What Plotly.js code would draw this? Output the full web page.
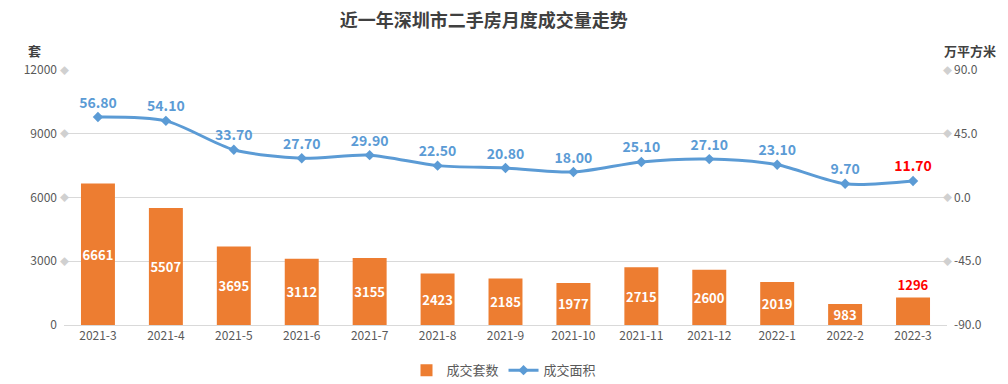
<!DOCTYPE html>
<html><head><meta charset="utf-8">
<script src="https://cdn.plot.ly/plotly-3.0.1.min.js"></script>
<style>html,body{margin:0;padding:0;background:#fff}#chart{width:1008px;height:384px}</style>
</head><body><div id="chart"></div>
<script>
const months = ['2021-3','2021-4','2021-5','2021-6','2021-7','2021-8','2021-9','2021-10','2021-11','2021-12','2022-1','2022-2','2022-3'];
const units = [6661,5507,3695,3112,3155,2423,2185,1977,2715,2600,2019,983,1296];
const area = [56.8,54.1,33.7,27.7,29.9,22.5,20.8,18.0,25.1,27.1,23.1,9.7,11.7];
const leftTicks = [0,3000,6000,9000,12000];
const rightTicks = [-90,-45,0,45,90];
const title = '近一年深圳市二手房月度成交量走势';

const n = months.length;
const barTextColor = units.map((v,i)=> i===n-1 ? '#ff0000' : '#ffffff');
const barTextPos = units.map((v,i)=> i===n-1 ? 'outside' : 'inside');
const lineTextColor = area.map((v,i)=> i===n-1 ? '#ff0000' : '#5b9bd5');
const F = '"Noto Sans CJK SC", "Open Sans", sans-serif';

const traces = [
 {type:'bar', name:'成交套数', x:months, y:units, yaxis:'y',
  marker:{color:'#ed7d31'}, width:0.5,
  text:units.map(String), textposition:barTextPos, insidetextanchor:'middle', textangle:0,
  textfont:{color:barTextColor, size:13, family:F, weight:'bold'}, constraintext:'none', cliponaxis:false},
 {type:'scatter', mode:'lines+markers+text', name:'成交面积', x:months, y:area, yaxis:'y2',
  line:{color:'#5b9bd5', width:3, shape:'spline', smoothing:0.8},
  marker:{symbol:'diamond', size:8, color:'#5b9bd5'},
  text:area.map(v=>v.toFixed(2)), textposition:'top center',
  textfont:{color:lineTextColor, size:14, family:F, weight:'bold'}, cliponaxis:false}
];

const annotations = [];
leftTicks.filter(v=>v!==0).forEach(v=>annotations.push({xref:'paper', yref:'y', x:0, y:v, text:'◆', showarrow:false, font:{size:9, color:'#d0d0d0'}, xanchor:'center', yanchor:'middle'}));
rightTicks.filter(v=>v!==-90).forEach(v=>annotations.push({xref:'paper', yref:'y2', x:1, y:v, text:'◆', showarrow:false, font:{size:9, color:'#d0d0d0'}, xanchor:'center', yanchor:'middle'}));
annotations.push({xref:'paper', yref:'paper', x:-0.033, y:1.078, text:'套', showarrow:false, font:{size:13, color:'#404040', family:F, weight:'bold'}, xanchor:'center', yanchor:'middle'});
annotations.push({xref:'paper', yref:'paper', x:1.026, y:1.078, text:'万平方米', showarrow:false, font:{size:13, color:'#404040', family:F, weight:'bold'}, xanchor:'center', yanchor:'middle'});

const layout = {
 width:1008, height:384,
 margin:{l:64, r:61, t:70, b:59, autoexpand:false},
 paper_bgcolor:'#fff', plot_bgcolor:'#fff',
 font:{family:F, color:'#595959'},
 title:{text:title, x:0.48, xanchor:'center', y:0.945, yanchor:'middle', font:{size:18, color:'#404040', family:F, weight:'bold'}},
 showlegend:true,
 legend:{orientation:'h', x:0.5, xanchor:'center', xref:'container', yref:'container', y:0.036, yanchor:'middle', font:{size:13, color:'#595959', family:F}, traceorder:'normal', itemwidth:30},
 xaxis:{type:'category', showgrid:false, showline:true, linecolor:'#d9d9d9', linewidth:1, ticks:'', tickfont:{size:12, color:'#595959', family:F}, range:[-0.5, n-0.5]},
 yaxis:{range:[0,12000], tickvals:leftTicks, ticktext:leftTicks.map(String), showgrid:true, gridcolor:'#d9d9d9', zeroline:false, ticks:'', ticklabelstandoff:6, tickfont:{size:12, color:'#595959'}},
 yaxis2:{overlaying:'y', side:'right', range:[-90,90], tickvals:rightTicks, ticktext:rightTicks.map(v=>v.toFixed(1)), showgrid:false, zeroline:false, ticks:'', ticklabelstandoff:6, tickfont:{size:12, color:'#595959'}},
 bargap:0.5,
 annotations:annotations
};
Plotly.newPlot('chart', traces, layout, {displayModeBar:false, staticPlot:true});
</script></body></html>
